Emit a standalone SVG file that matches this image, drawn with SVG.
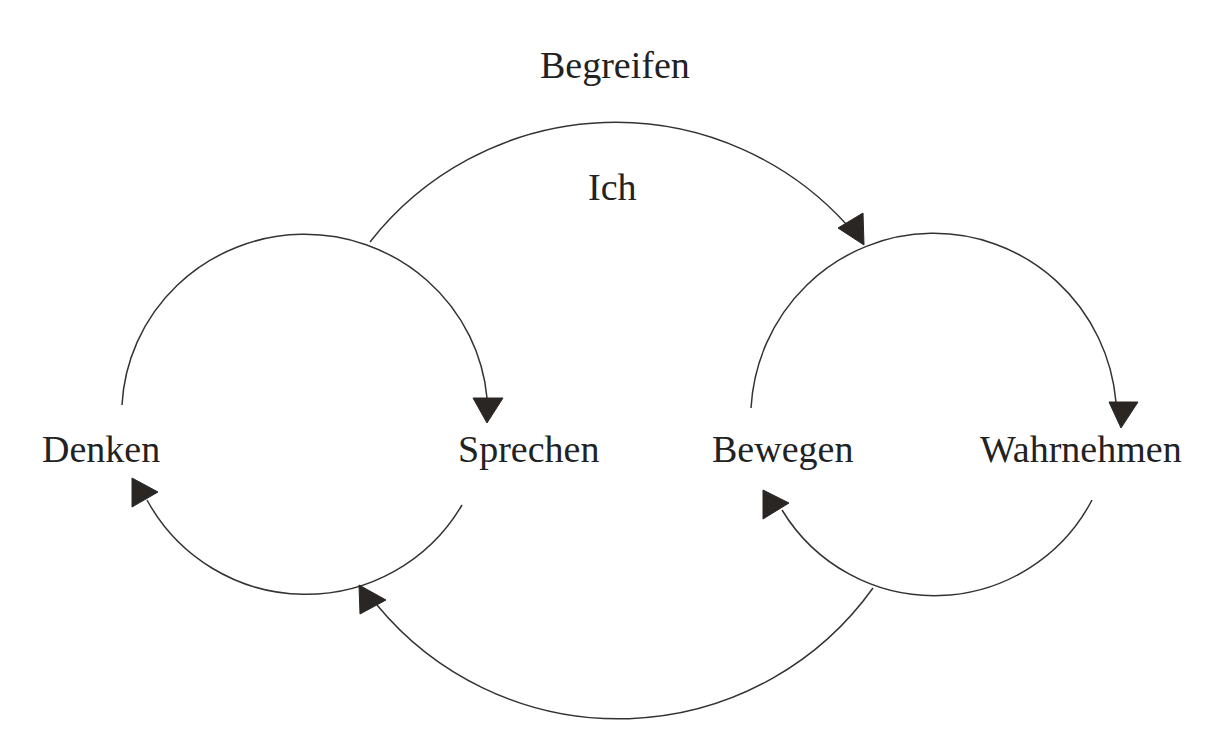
<svg xmlns="http://www.w3.org/2000/svg" width="1215" height="745" viewBox="0 0 1215 745">
<style>
.arc{fill:none;stroke:#333;stroke-width:1.5}
.head{fill:#2a2624;stroke:#2a2624;stroke-width:1;stroke-linejoin:round}
.lbl{font-family:"Liberation Serif","Times New Roman",serif;font-size:38px;fill:#222}
</style>
<rect width="1215" height="745" fill="#ffffff"/>
<g id="connectors">
<path class="arc" d="M122,405 A183,180 0 0 1 487,398"/>
<path class="arc" d="M462,505 A181,181 0 0 1 147,500"/>
<path class="arc" d="M751,408 A183,185 0 0 1 1116,402"/>
<path class="arc" d="M1092,500 A178,178 0 0 1 782,510"/>
<path class="arc" d="M370,242 A312,312 0 0 1 847,225"/>
<path class="arc" d="M873,588 A313,313 0 0 1 377,605"/>
<polygon class="head" points="473,398 503,398 487,423"/>
<polygon class="head" points="1109,402 1138,402 1121,428"/>
<polygon class="head" points="132,478 158,492 132,507"/>
<polygon class="head" points="763,490 789,503 763,519"/>
<polygon class="head" points="359,585 386,600 360,614"/>
<polygon class="head" points="838,228 863,213 864,245"/>
</g>
<g id="begreifen"><text class="lbl" x="540" y="78">Begreifen</text></g>
<g id="ich"><text class="lbl" x="588" y="200">Ich</text></g>
<g id="denken"><text class="lbl" x="42" y="462">Denken</text></g>
<g id="sprechen"><text class="lbl" x="458" y="462">Sprechen</text></g>
<g id="bewegen"><text class="lbl" x="712" y="462">Bewegen</text></g>
<g id="wahrnehmen"><text class="lbl" x="980" y="462">Wahrnehmen</text></g>
</svg>
